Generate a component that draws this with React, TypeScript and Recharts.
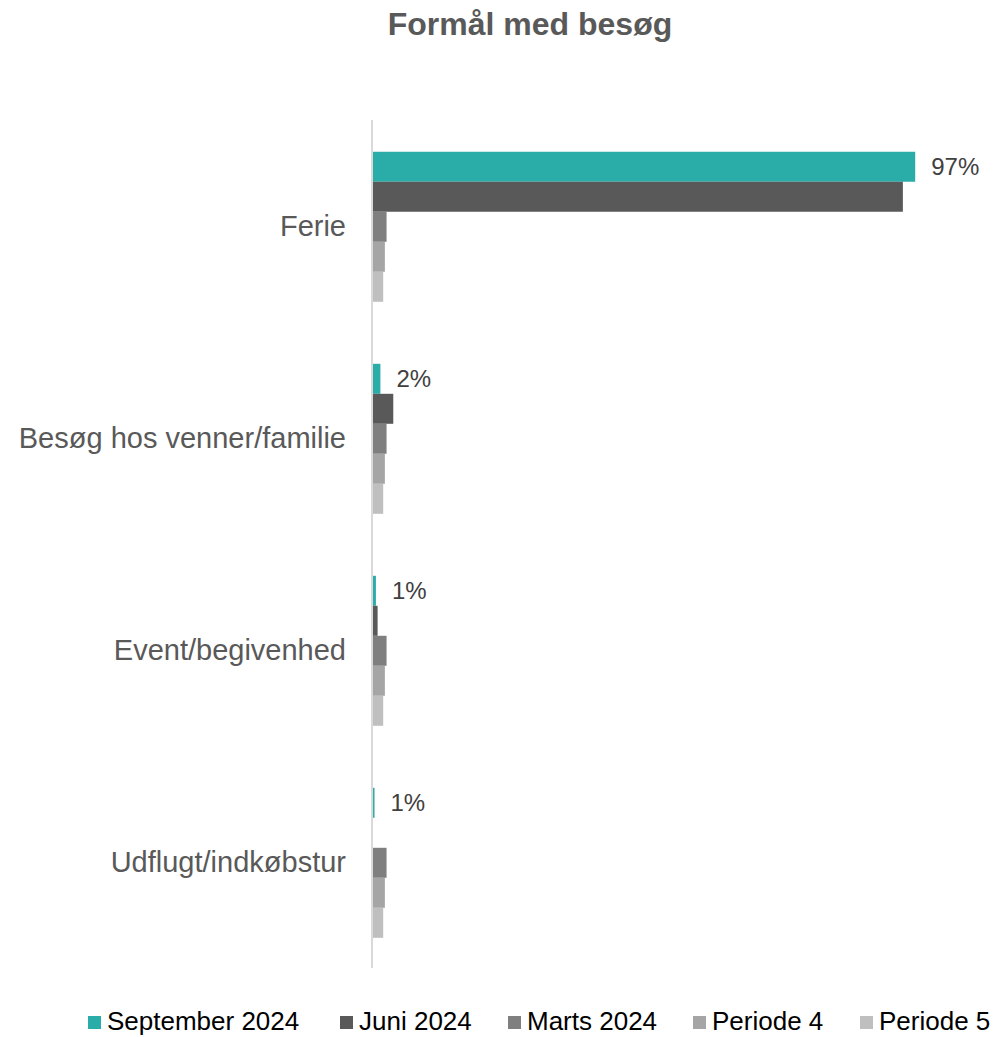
import React from "react";
import { BarChart, Bar, XAxis, YAxis, LabelList } from "recharts";

const categories = ["Ferie", "Besøg hos venner/familie", "Event/begivenhed", "Udflugt/indkøbstur"];
const september2024 = [97, 1.5, 0.7, 0.45];
const juni2024 = [94.8, 3.8, 1.0, 0];
const marts2024 = [2.6, 2.6, 2.6, 2.6];
const periode4 = [2.3, 2.3, 2.3, 2.3];
const periode5 = [2.0, 2.0, 2.0, 2.0];
const septemberLabels = ["97%", "2%", "1%", "1%"];

const seriesNames = ["September 2024", "Juni 2024", "Marts 2024", "Periode 4", "Periode 5"];
const seriesKeys = ["sep", "jun", "mar", "p4", "p5"];
const seriesColors = ["#2AACA8", "#595959", "#7F7F7F", "#A5A5A5", "#BFBFBF"];
const legendLeft = [88, 340, 508, 693, 860];

const data = categories.map((c, i) => ({
  name: c,
  sep: september2024[i],
  jun: juni2024[i],
  mar: marts2024[i],
  p4: periode4[i],
  p5: periode5[i],
  sepLabel: septemberLabels[i],
}));

const FONT = "'Liberation Sans', Arial, sans-serif";

export default function App() {
  return (
    <div style={{ position: "absolute", left: 0, top: 0, width: 995, height: 1037, fontFamily: FONT, background: "#fff", overflow: "hidden" }}>
      <div
        style={{
          position: "absolute",
          left: 530,
          top: 8,
          transform: "translateX(-50%)",
          fontSize: 32,
          lineHeight: "32px",
          fontWeight: "bold",
          color: "#595959",
          whiteSpace: "nowrap",
        }}
      >
        Formål med besøg
      </div>
      <BarChart
        width={995}
        height={1037}
        data={data}
        layout="vertical"
        margin={{ top: 120, right: 63, bottom: 69, left: 0 }}
        barCategoryGap="15%"
        barGap={0}
      >
        <XAxis type="number" domain={[0, 100]} hide />
        <YAxis
          type="category"
          dataKey="name"
          width={372}
          axisLine={{ stroke: "#D9D9D9", strokeWidth: 2 }}
          tickLine={false}
          tickSize={0}
          tickMargin={26}
          tick={{ fill: "#595959", fontSize: 29, fontFamily: FONT }}
          interval={0}
        />
        {seriesKeys.map((k, i) => (
          <Bar key={k} dataKey={k} name={seriesNames[i]} fill={seriesColors[i]} isAnimationActive={false}>
            {k === "sep" ? (
              <LabelList
                dataKey="sepLabel"
                position="right"
                offset={16}
                fill="#404040"
                fontSize={24}
                fontFamily={FONT}
              />
            ) : null}
          </Bar>
        ))}
      </BarChart>
      {seriesNames.map((n, i) => (
        <div
          key={n}
          style={{
            position: "absolute",
            left: legendLeft[i],
            top: 1008,
            display: "flex",
            alignItems: "center",
            fontSize: 26,
            lineHeight: "26px",
            color: "#000",
            whiteSpace: "nowrap",
          }}
        >
          <span
            style={{
              display: "inline-block",
              width: 13,
              height: 13,
              background: seriesColors[i],
              marginRight: 6,
              marginTop: 3,
            }}
          />
          <span>{n}</span>
        </div>
      ))}
    </div>
  );
}
